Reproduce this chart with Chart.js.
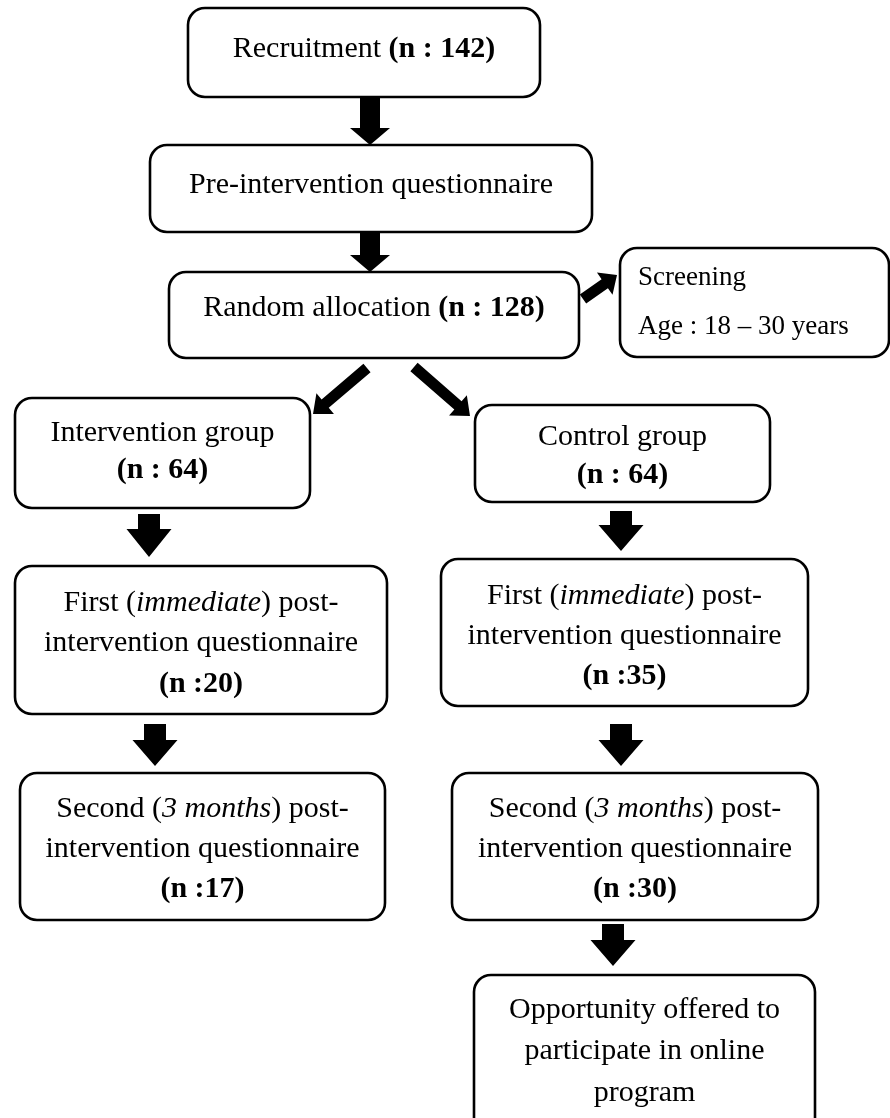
<!DOCTYPE html>
<html>
<head>
<meta charset="utf-8">
<script src="https://cdn.jsdelivr.net/npm/chart.js@4.4.1/dist/chart.umd.min.js"></script>
<style>
html,body{margin:0;padding:0;background:#fff;}
#wrap{width:890px;height:1118px;position:relative;}
</style>
</head>
<body>
<div id="wrap"><canvas id="c" width="890" height="1118"></canvas></div>
<script>
// ---- Flowchart content (text + counts) ----
const stepNames = [
  "Recruitment",
  "Pre-intervention questionnaire",
  "Random allocation",
  "Screening",
  "Intervention group",
  "Control group",
  "First (immediate) post-intervention questionnaire — intervention",
  "First (immediate) post-intervention questionnaire — control",
  "Second (3 months) post-intervention questionnaire — intervention",
  "Second (3 months) post-intervention questionnaire — control",
  "Opportunity offered to participate in online program"
];
const stepCounts = ["142", null, "128", null, "64", "64", "20", "35", "17", "30", null];
// rich text lines per step: [text, style] where style: "" normal, "b" bold, "i" italic
const stepLines = [
  [[["Recruitment ",""],["(n : " + stepCounts[0] + ")","b"]]],
  [[["Pre-intervention questionnaire",""]]],
  [[["Random allocation ",""],["(n : " + stepCounts[2] + ")","b"]]],
  [[["Screening",""]],[["Age : 18 \u2013 30 years",""]]],
  [[["Intervention group",""]],[["(n : " + stepCounts[4] + ")","b"]]],
  [[["Control group",""]],[["(n : " + stepCounts[5] + ")","b"]]],
  [[["First (",""],["immediate","i"],[") post-",""]],[["intervention questionnaire",""]],[["(n :" + stepCounts[6] + ")","b"]]],
  [[["First (",""],["immediate","i"],[") post-",""]],[["intervention questionnaire",""]],[["(n :" + stepCounts[7] + ")","b"]]],
  [[["Second (",""],["3 months","i"],[") post-",""]],[["intervention questionnaire",""]],[["(n :" + stepCounts[8] + ")","b"]]],
  [[["Second (",""],["3 months","i"],[") post-",""]],[["intervention questionnaire",""]],[["(n :" + stepCounts[9] + ")","b"]]],
  [[["Opportunity offered to",""]],[["participate in online",""]],[["program",""]]]
];
// links between steps: [from, to]
const links = [[0,1],[1,2],[2,3],[2,4],[2,5],[4,6],[5,7],[6,8],[7,9],[9,10]];

// ---- Layout (canvas units on a 0..890 x 0..1118 grid) ----
const boxLeft   = [188,150,169,620, 15,475, 15,441, 20,452,474];
const boxRight  = [540,592,579,889,310,770,387,808,385,818,815];
const boxTop    = [  8,145,272,248,398,405,566,559,773,773,975];
const boxBottom = [ 97,232,358,357,508,502,714,706,920,920,1135];
const lineY = [
  [49],[185],[308],[278,327],[433,470],[437,475],[603,643,684],[596,636,676],[809,849,889],[809,849,889],[1010,1051,1093]
];
const fontPx = [30,30,30,27,30,30,30,30,30,30,30];
const textAlignLeft = [false,false,false,true,false,false,false,false,false,false,false];
// arrows per link: start(x,y) end(x,y), shaft width, head width, head length
const arrowX1 = [370,370,583,367,414,149,621,155,621,613];
const arrowY1 = [ 97,232,299,368,367,514,511,724,724,924];
const arrowX2 = [370,370,617,313,470,149,621,155,621,613];
const arrowY2 = [145,272,275,414,416,557,551,766,766,966];
const arrowShaft = [20,20,11,11,11,22,22,22,22,22];
const arrowHead  = [40,40,27,27,27,45,45,45,45,45];
const arrowHeadL = [17,17,15,16,16,28,26,26,26,26];

function fontFor(style, px){
  const w = style === "b" ? "bold " : "";
  const s = style === "i" ? "italic " : "";
  return s + w + px + 'px "Liberation Serif", "Times New Roman", serif';
}

const flowPlugin = {
  id: 'flow',
  afterDatasetsDraw(chart){
    const ctx = chart.ctx;
    const xs = chart.scales.x, ys = chart.scales.y;
    const X = v => xs.getPixelForValue(v);
    const Y = v => ys.getPixelForValue(v);
    ctx.save();
    // boxes
    for (let i = 0; i < stepLines.length; i++){
      const l = X(boxLeft[i]), r = X(boxRight[i]), t = Y(boxTop[i]), b = Y(boxBottom[i]);
      ctx.beginPath();
      ctx.roundRect(l, t, r - l, b - t, 17);
      ctx.fillStyle = '#fff';
      ctx.fill();
      ctx.lineWidth = 2.6;
      ctx.strokeStyle = '#000';
      ctx.stroke();
      // text
      ctx.fillStyle = '#000';
      ctx.textBaseline = 'middle';
      ctx.textAlign = 'left';
      stepLines[i].forEach((segs, k) => {
        let total = 0;
        segs.forEach(s => { ctx.font = fontFor(s[1], fontPx[i]); total += ctx.measureText(s[0]).width; });
        let x = textAlignLeft[i] ? l + 18 : (l + r) / 2 - total / 2;
        const y = Y(lineY[i][k]);
        segs.forEach(s => {
          ctx.font = fontFor(s[1], fontPx[i]);
          ctx.fillText(s[0], x, y);
          x += ctx.measureText(s[0]).width;
        });
      });
    }
    // arrows
    for (let j = 0; j < links.length; j++){
      const x1 = X(arrowX1[j]), y1 = Y(arrowY1[j]), x2 = X(arrowX2[j]), y2 = Y(arrowY2[j]);
      const dx = x2 - x1, dy = y2 - y1, len = Math.hypot(dx, dy);
      const ux = dx/len, uy = dy/len, px = -uy, py = ux;
      const sw = arrowShaft[j]/2, hw = arrowHead[j]/2, hl = arrowHeadL[j];
      const bx = x2 - ux*hl, by = y2 - uy*hl;
      ctx.beginPath();
      ctx.moveTo(x1 + px*sw, y1 + py*sw);
      ctx.lineTo(bx + px*sw, by + py*sw);
      ctx.lineTo(bx + px*hw, by + py*hw);
      ctx.lineTo(x2, y2);
      ctx.lineTo(bx - px*hw, by - py*hw);
      ctx.lineTo(bx - px*sw, by - py*sw);
      ctx.lineTo(x1 - px*sw, y1 - py*sw);
      ctx.closePath();
      ctx.fillStyle = '#000';
      ctx.fill();
    }
    ctx.restore();
  }
};

new Chart(document.getElementById('c'), {
  type: 'scatter',
  data: { datasets: [{ data: [], pointRadius: 0 }] },
  options: {
    responsive: false,
    animation: false,
    layout: { padding: 0 },
    plugins: { legend: { display: false }, tooltip: { enabled: false } },
    scales: {
      x: { type: 'linear', min: 0, max: 890, display: false },
      y: { type: 'linear', min: 0, max: 1118, reverse: true, display: false }
    }
  },
  plugins: [flowPlugin]
});
</script>
</body>
</html>
